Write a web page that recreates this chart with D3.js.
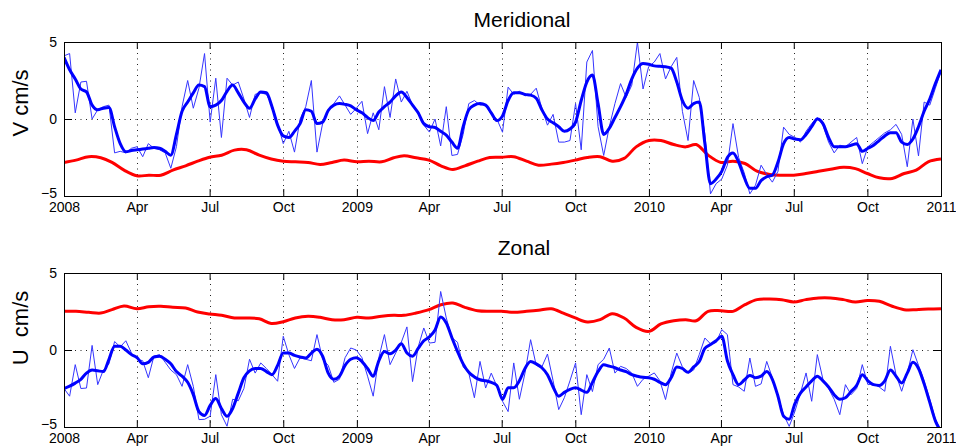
<!doctype html>
<html>
  <head>
    <meta charset="utf-8" />
    <title>Meridional / Zonal</title>
    <style>
      body { margin: 0; background: #fff; }
      text { font-family: Arial, "Liberation Sans", Helvetica, sans-serif; }
    </style>
  </head>
  <body>
    <svg id="fig" width="956" height="446"></svg>

    <script src="https://d3js.org/d3.v7.min.js"></script>
    <script>
      // weekly values, thin line (V, meridional)
      const vThin = [
        4.1, 4.25, 0.4, 2.4, 2.45, 0.0, 0.6, 0.8, 0.9, -2.2,
        -2.1, -2.2, -1.9, -1.8, -2.45, -1.6, -1.9, -2.0, -2.2, -3.2,
        -1.8, 0.8, 2.5, 0.7, 2.0, 4.25, -0.2, 2.65, -1.2, 2.65,
        2.2, 2.4, 1.3, 0.1, 1.6, 1.7, 1.6, 0.9, -0.3, -1.6,
        -0.8, -2.15, 0.0, 0.8, 2.5, -2.15, -0.3, 0.5, 1.0, 1.5,
        0.9, 0.3, 0.7, 1.15, -0.95, 0.4, -0.7, 2.1, 0.1, 2.6,
        1.1, 1.8, 0.9, 0.5, -0.4, -0.85, 0.0, -1.75, 0.8, -2.37,
        -2.3, -1.0, 1.0, 1.2, 0.9, 0.9, 0.3, 0.0, -0.86, 2.07,
        1.6, 1.8, 1.5, 1.6, 2.0, 0.7, -0.4, 0.3, -1.5, -1.5,
        -1.4, 1.0, -2.0, 3.7, 4.45, -0.5, -2.37, -0.5, 1.0, 2.3,
        1.4, 2.2, 5.0, 1.95, 3.4, 3.7, 4.25, 2.6, 3.4, 4.0,
        0.5, -1.4, 2.5, 1.4, -1.0, -4.86, -4.2, -3.9, -3.0, -0.3,
        -2.5, -3.5, -4.86, -4.3, -3.0, -3.6, -4.1, -3.4, -0.53, -1.0,
        -1.2, -1.5, -0.8, -0.3, 0.1, -0.4, -1.5, -2.2, -1.7, -1.8,
        -1.5, -1.2, -2.9, -1.8, -1.5, -1.2, -0.9, -0.7, -0.35, -1.0,
        -3.1, 0.0, -2.4, 1.1, 0.9, 2.0, 3.1
      ];
      // weekly values, smoothed (thick blue)
      const vSmooth = [
        4.0, 3.2, 2.6, 1.95, 1.76, 0.9, 0.6, 0.7, 0.75, -0.5,
        -1.6, -2.13, -2.05, -2.0, -1.95, -1.9, -1.85, -1.9, -2.1, -2.35,
        -1.0, 0.5, 1.1, 1.7, 2.2, 2.1, 0.8, 0.9, 1.2, 1.8,
        2.2, 1.7, 1.1, 0.7, 1.3, 1.75, 1.7, 0.8, -0.4, -1.1,
        -1.2, -0.8, -0.3, 0.6, 0.5, -0.3, -0.2, 0.55, 0.9, 1.0,
        0.95, 0.85, 0.6, 0.4, 0.1, -0.1, 0.45, 0.8, 1.1, 1.5,
        1.75, 1.4, 0.9, 0.4, -0.3, -0.5, -0.55, -0.8, -1.05, -1.5,
        -1.9, -0.5, 0.6, 0.9, 1.0, 0.9, 0.4, -0.1, 0.2, 1.2,
        1.7, 1.7, 1.6, 1.55, 1.35, 0.6, 0.0, -0.25, -0.5, -0.8,
        -0.65, -0.2, 1.2, 2.4, 2.85, 1.0, -1.0, -0.6, 0.1, 0.8,
        1.6, 2.6, 3.3, 3.6, 3.55, 3.45, 3.42, 3.4, 3.3, 2.4,
        1.2, 0.7, 1.0, 1.1, -1.6, -4.2, -3.9, -3.4, -2.5, -2.2,
        -2.8, -3.8, -4.5, -4.5, -4.0, -3.75, -3.65, -2.8, -1.6, -1.2,
        -1.3, -1.35, -1.0, -0.5, 0.0, -0.3, -1.2, -1.8, -1.8, -1.8,
        -1.7, -1.6, -2.1, -1.9, -1.7, -1.4, -1.1, -0.9, -0.9, -1.5,
        -1.65, -1.3, -0.5, 0.5, 1.3, 2.3, 3.2
      ];
      // half-monthly values, long-term mean (red)
      const vMean = [
        -2.82, -2.67, -2.45, -2.52, -2.82, -3.32, -3.69, -3.65, -3.65, -3.32,
        -3.04, -2.74, -2.48, -2.35, -2.02, -2.0, -2.35, -2.6, -2.74, -2.78,
        -2.82, -2.95, -2.82, -2.67, -2.78, -2.74, -2.78, -2.52, -2.39, -2.52,
        -2.67, -3.04, -3.28, -3.04, -2.74, -2.5, -2.48, -2.45, -2.74, -3.0,
        -2.93, -2.82, -2.67, -2.5, -2.45, -2.74, -2.56, -1.81, -1.4, -1.4,
        -1.66, -1.81, -1.66, -2.35, -2.82, -2.74, -2.89, -3.39, -3.6, -3.65,
        -3.65, -3.54, -3.39, -3.26, -3.13, -3.22, -3.54, -3.82, -3.86, -3.54,
        -3.32, -2.78, -2.6
      ];

      // zonal (U)
      const uThin = [
        -2.5, -3.0, -0.95, -2.5, -2.47, 0.3, -2.25, -1.3, -0.9, 0.55,
        0.2, 0.6, -0.2, -0.6, -0.7, -1.8, -0.4, -0.3, -0.8, -1.3,
        -1.6, -2.36, -0.95, -2.36, -4.52, -4.5, -4.3, -1.6, -4.2, -4.95,
        -3.2, -3.3, -2.5, -0.6, -1.5, -0.84, -1.2, -1.6, -2.03, 0.89,
        -0.3, -1.2, -0.5, -0.6, -0.7, 1.0, -0.6, -1.0, -2.1, -1.9,
        -0.5, 0.13, 0.0, -0.5, -1.7, -3.0, -0.5, 1.0, -0.95, -0.2,
        0.5, 1.5, -2.05, 0.2, 1.43, 0.45, 0.5, 3.8, 2.08, 0.8,
        0.5, -1.1, -1.5, -3.1, -0.74, -2.47, -1.5, -2.36, -3.33, -4.0,
        -0.84, -3.2, -1.5, 0.67, -1.0, -1.1, -0.26, -2.0, -3.87, -3.1,
        -2.0, -0.84, -4.2, -1.6, -2.7, -0.95, -0.6, 0.13, -1.5, -1.06,
        -1.2, -1.5, -2.36, -1.9, -1.7, -1.49, -2.0, -3.22, -1.5, -0.2,
        -1.1, -1.5, -1.3, -0.3, 0.78, 0.4, 0.5, 1.32, 1.0, -2.25,
        -2.4, -2.68, -0.52, -2.36, -2.2, -0.74, -1.8, -3.0, -4.2, -4.96,
        -4.0, -2.8, -1.49, -3.33, -0.3, -1.9, -2.5, -3.2, -4.2, -2.25,
        -2.9, -2.5, -0.95, -2.25, -2.2, -2.4, -2.68, 0.24, -1.6, -2.68,
        -1.5, 0.02, -1.0, -2.0, -3.2, -4.5, -5.2
      ];
      const uSmooth = [
        -2.5, -2.35, -2.15, -1.9, -1.5, -1.3, -1.35, -1.4, -0.6, 0.25,
        0.25, 0.0, -0.3, -0.5, -0.9, -0.8, -0.45, -0.4, -0.6, -0.9,
        -1.4, -1.7, -2.1, -2.9, -4.0, -4.25, -3.6, -3.15, -3.8, -4.3,
        -3.8, -2.8, -1.8, -1.35, -1.2, -1.2, -1.4, -1.6, -1.0, -0.2,
        -0.2, -0.35, -0.45, -0.52, -0.2, 0.05, -0.4, -1.5, -1.9, -1.7,
        -1.0, -0.6, -0.5, -0.75, -1.2, -1.7, -0.7, -0.1, -0.25, 0.0,
        0.4, -0.2, -0.4, 0.1, 0.6, 0.85, 1.3, 2.15, 1.75, 0.8,
        -0.1, -0.9, -1.45, -1.75, -1.93, -2.0, -2.1, -2.3, -3.2, -2.45,
        -2.45, -2.0, -1.2, -0.75, -0.9, -1.15, -1.6, -2.4, -3.0, -2.75,
        -2.55, -2.45, -2.6, -2.75, -2.1, -1.4, -0.95, -1.05, -1.15, -1.3,
        -1.4, -1.6, -1.7, -1.77, -1.8, -1.9, -2.1, -2.25, -1.8, -1.1,
        -1.2, -1.45, -1.1, -0.75, 0.1, 0.35, 0.6, 0.9, -0.7, -1.6,
        -2.25, -1.95, -1.65, -1.8, -1.7, -1.4, -1.9, -3.0, -4.3, -4.5,
        -3.5, -2.8, -2.4, -2.0, -1.7, -2.0, -2.4, -2.9, -3.2, -3.1,
        -2.7, -2.3, -1.6, -2.0, -2.25, -2.3, -2.0, -1.3, -1.7, -2.14,
        -1.5, -0.8, -1.2, -2.2, -3.4, -4.6, -5.3
      ];
      const uMean = [
        2.51, 2.51, 2.45, 2.4, 2.62, 2.86, 2.68, 2.81, 2.84, 2.77,
        2.73, 2.47, 2.34, 2.25, 2.08, 2.08, 2.03, 1.72, 1.84, 2.08,
        2.19, 2.12, 1.97, 1.97, 2.12, 2.08, 2.19, 2.25, 2.25, 2.4,
        2.62, 2.94, 3.05, 2.77, 2.55, 2.51, 2.51, 2.45, 2.51, 2.58,
        2.68, 2.4, 2.08, 1.82, 1.97, 2.36, 2.08, 1.47, 1.21, 1.69,
        1.9, 1.97, 1.9, 2.51, 2.55, 2.51, 2.94, 3.27, 3.31, 3.27,
        3.12, 3.27, 3.38, 3.38, 3.27, 3.12, 3.22, 3.16, 2.84, 2.62,
        2.62, 2.66, 2.68
      ];

      const quarterLabels = ['2008', 'Apr', 'Jul', 'Oct', '2009', 'Apr', 'Jul', 'Oct',
                             '2010', 'Apr', 'Jul', 'Oct', '2011'];
      const yTicks = [-5, 0, 5];

      const svg = d3.select('#fig');
      const start = new Date(2008, 0, 1);
      const end = new Date(2011, 0, 1);
      const plotLeft = 64, plotRight = 941;

      const x = d3.scaleTime().domain([start, end]).range([plotLeft, plotRight]);
      const quarterDates = d3.timeMonth.every(3).range(start, d3.timeDay.offset(end, 1));

      // weekly samples are spread across the full three years
      function weekDate(i, n) {
        return new Date(+start + (end - start) * i / (n - 1));
      }
      function halfMonthDate(h) {
        const m = d3.timeMonth.offset(start, Math.floor(h / 2));
        return h % 2 ? d3.timeDay.offset(m, 15) : m;
      }

      function styleAxis(sel) {
        sel.select('.domain').remove();
        sel.selectAll('.tick line').attr('stroke', '#000');
        sel.selectAll('.tick text').attr('fill', '#000').style('font-size', '14px');
      }

      function drawPanel(p) {
        const y = d3.scaleLinear().domain([-5, 5]).range([p.bottom, p.top]);
        const g = svg.append('g');

        g.append('clipPath').attr('id', p.id)
          .append('rect')
          .attr('x', plotLeft).attr('y', p.top)
          .attr('width', plotRight - plotLeft).attr('height', p.bottom - p.top);

        // dotted grid
        g.selectAll('line.vgrid').data(quarterDates.slice(1, -1)).join('line')
          .attr('class', 'vgrid')
          .attr('x1', d => Math.round(x(d)) + 0.5).attr('x2', d => Math.round(x(d)) + 0.5)
          .attr('y1', p.top).attr('y2', p.bottom)
          .attr('stroke', '#222').attr('stroke-dasharray', '1,4.5');
        g.append('line')
          .attr('x1', plotLeft).attr('x2', plotRight)
          .attr('y1', Math.round(y(0)) + 0.5).attr('y2', Math.round(y(0)) + 0.5)
          .attr('stroke', '#222').attr('stroke-dasharray', '1,4.5');

        const lines = g.append('g').attr('clip-path', `url(#${p.id})`);

        lines.append('path').datum(p.mean)
          .attr('d', d3.line()
            .x((d, i) => x(halfMonthDate(i)))
            .y(d => y(d))
            .curve(d3.curveCatmullRom))
          .attr('fill', 'none').attr('stroke', '#ff0000').attr('stroke-width', 3);

        lines.append('path').datum(p.thin)
          .attr('d', d3.line()
            .x((d, i) => x(weekDate(i, p.thin.length)))
            .y(d => y(d)))
          .attr('fill', 'none').attr('stroke', '#3535ff').attr('stroke-width', 1);

        lines.append('path').datum(p.smooth)
          .attr('d', d3.line()
            .x((d, i) => x(weekDate(i, p.smooth.length)))
            .y(d => y(d))
            .curve(d3.curveMonotoneX))
          .attr('fill', 'none').attr('stroke', '#0000ff').attr('stroke-width', 3)
          .attr('stroke-linejoin', 'round');

        // axes, ticks pointing inward
        g.append('g').attr('transform', `translate(0,${p.bottom})`)
          .call(d3.axisBottom(x).tickValues(quarterDates)
            .tickFormat((d, i) => quarterLabels[i])
            .tickSizeInner(-7).tickSizeOuter(0).tickPadding(6))
          .call(styleAxis);
        g.append('g').attr('transform', `translate(0,${p.top})`)
          .call(d3.axisTop(x).tickValues(quarterDates).tickFormat('')
            .tickSizeInner(-7).tickSizeOuter(0))
          .call(styleAxis);
        g.append('g').attr('transform', `translate(${plotLeft},0)`)
          .call(d3.axisLeft(y).tickValues(yTicks).tickFormat(d3.format('d'))
            .tickSizeInner(-8).tickSizeOuter(0).tickPadding(7))
          .call(styleAxis)
          .call(a => a.selectAll('.tick text').filter(d => d === -5).attr('dy', '0.1em'));
        g.append('g').attr('transform', `translate(${plotRight},0)`)
          .call(d3.axisRight(y).tickValues(yTicks).tickFormat('')
            .tickSizeInner(-8).tickSizeOuter(0))
          .call(styleAxis);

        g.append('rect')
          .attr('x', plotLeft + 0.5).attr('y', p.top + 0.5)
          .attr('width', plotRight - plotLeft).attr('height', p.bottom - p.top)
          .attr('fill', 'none').attr('stroke', '#000').attr('stroke-width', 1);

        g.append('text')
          .attr('x', p.titleX).attr('y', p.titleY)
          .attr('text-anchor', 'middle')
          .style('font-size', '21px')
          .text(p.title);

        g.append('text')
          .attr('transform', `translate(27.5,${p.labelY}) rotate(-90)`)
          .attr('text-anchor', 'middle')
          .style('font-size', '22px')
          .style('white-space', 'pre')
          .text(p.ylabel);
      }

      drawPanel({
        id: 'clipV', top: 42, bottom: 196,
        title: 'Meridional', titleX: 522, titleY: 27,
        ylabel: 'V cm/s', labelY: 103,
        thin: vThin, smooth: vSmooth, mean: vMean
      });
      drawPanel({
        id: 'clipU', top: 273, bottom: 427,
        title: 'Zonal', titleX: 524, titleY: 255,
        ylabel: 'U  cm/s', labelY: 328,
        thin: uThin, smooth: uSmooth, mean: uMean
      });
    </script>
  </body>
</html>
